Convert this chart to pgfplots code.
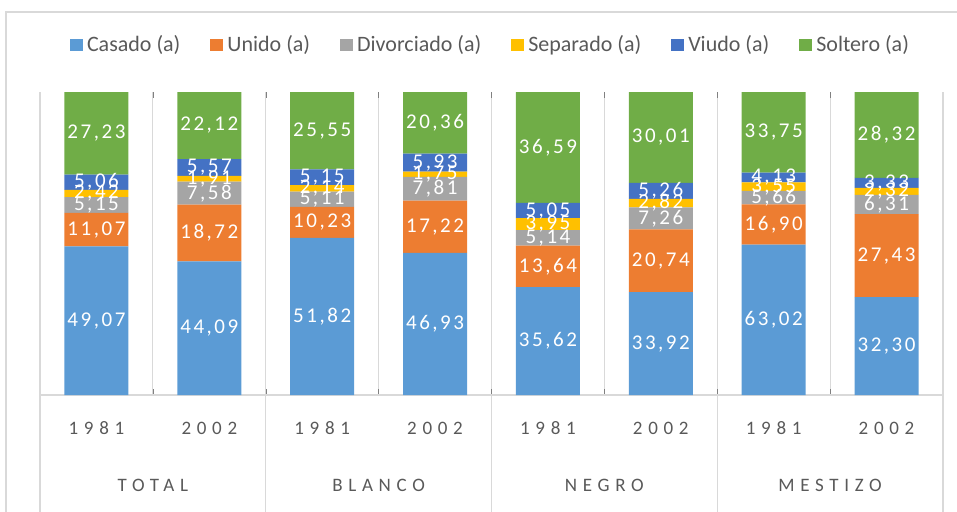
\documentclass[border=0pt]{standalone}
\usepackage{fontspec}
\setmainfont{Carlito}
\newfontfamily\spaced[LetterSpace=30]{Carlito}
\newfontfamily\lblfont[LetterSpace=12]{Carlito}
\usepackage{pgfplots}
\usepackage{pgfplotstable}
\pgfplotsset{compat=1.18}

\definecolor{casado}{HTML}{5B9BD5}
\definecolor{unido}{HTML}{ED7D31}
\definecolor{divorc}{HTML}{A5A5A5}
\definecolor{separ}{HTML}{FFC000}
\definecolor{viudo}{HTML}{4472C4}
\definecolor{solt}{HTML}{70AD47}
\definecolor{txt}{HTML}{595959}
\definecolor{grd}{HTML}{D9D9D9}

% c=casado u=unido d=divorciado s=separado v=viudo o=soltero, t=row total
\pgfplotstableread{
x   c     u     d    s    v    o     t
0.5 49.07 11.07 5.15 2.42 5.06 27.23 100.00
1.5 44.09 18.72 7.58 1.91 5.57 22.12 99.99
2.5 51.82 10.23 5.11 2.14 5.15 25.55 100.00
3.5 46.93 17.22 7.81 1.75 5.93 20.36 100.00
4.5 35.62 13.64 5.14 3.95 5.05 36.59 99.99
5.5 33.92 20.74 7.26 2.82 5.26 30.01 100.01
6.5 63.02 16.90 5.66 3.55 4.13 33.75 127.01
7.5 32.30 27.43 6.31 2.32 3.33 28.32 100.01
}\estado

\pgfplotsset{base/.style={
  scale only axis, width=451.5pt, height=151.5pt,
  xmin=0, xmax=8, ymin=0, ymax=100, clip=false,
}}

\begin{document}
\begin{tikzpicture}
\useasboundingbox (-20pt,-58pt) rectangle (458.5pt,197.5pt);
\draw[grd, line width=0.8pt] (-17pt,-60pt) -- (-17pt,191.5pt) -- (460pt,191.5pt);
\begin{axis}[base,
  ybar stacked, bar width=32pt,
  axis line style={draw=none},
  ytick=\empty,
  xtick={0.5,1.5,...,7.5},
  xticklabels={1981,2002,1981,2002,1981,2002,1981,2002},
  major tick length=0pt,
  xticklabel style={font=\spaced\fontsize{9.5}{11}\selectfont, text=txt, anchor=center, yshift=-16.5pt},
  extra x ticks={1,3,5,7},
  extra x tick labels={TOTAL,BLANCO,NEGRO,MESTIZO},
  extra x tick style={grid=none, xticklabel style={yshift=-28.5pt}},
  minor xtick={0,...,8},
  xminorgrids, minor grid style={grd, line width=0.6pt},
  legend style={at={(0.5,1.155)}, anchor=center, draw=none, fill=none,
    font=\fontsize{11}{13}\selectfont, text=txt, legend columns=6,
    /tikz/every even column/.append style={column sep=13pt}},
  legend image code/.code={\fill[#1] (0pt,-3pt) rectangle (6.5pt,3pt);},
]
\addplot[fill=casado, draw=none] table[x=x, y expr=\thisrow{c}*100/\thisrow{t}] {\estado};
\addplot[fill=unido, draw=none] table[x=x, y expr=\thisrow{u}*100/\thisrow{t}] {\estado};
\addplot[fill=divorc, draw=none] table[x=x, y expr=\thisrow{d}*100/\thisrow{t}] {\estado};
\addplot[fill=separ, draw=none] table[x=x, y expr=\thisrow{s}*100/\thisrow{t}] {\estado};
\addplot[fill=viudo, draw=none] table[x=x, y expr=\thisrow{v}*100/\thisrow{t}] {\estado};
\addplot[fill=solt, draw=none] table[x=x, y expr=\thisrow{o}*100/\thisrow{t}] {\estado};
\legend{Casado (a),Unido (a),Divorciado (a),Separado (a),Viudo (a),Soltero (a)}
\draw[grd, line width=0.6pt] (axis cs:0,0) -- (axis cs:8,0);
\draw[grd, line width=0.6pt] (axis cs:0,100) -- (axis cs:0,-40)
  (axis cs:2,0) -- (axis cs:2,-40) (axis cs:4,0) -- (axis cs:4,-40)
  (axis cs:6,0) -- (axis cs:6,-40) (axis cs:8,100) -- (axis cs:8,-40);
\end{axis}
\begin{axis}[base, hide axis,
  point meta=explicit,
  /pgf/number format/assume math mode=true,
  nodes near coords={\pgfmathprintnumber[fixed, fixed zerofill, precision=2, use comma]{\pgfplotspointmeta}},
  every node near coord/.append style={font=\lblfont\fontsize{10.5}{12}\selectfont, text=white, anchor=center, inner sep=0pt},
]
\addplot[draw=none] table[x=x, y expr=(\thisrow{c}/2)*100/\thisrow{t}, meta=c] {\estado};
\addplot[draw=none] table[x=x, y expr=(\thisrow{c}+\thisrow{u}/2)*100/\thisrow{t}, meta=u] {\estado};
\addplot[draw=none] table[x=x, y expr=(\thisrow{c}+\thisrow{u}+\thisrow{d}/2)*100/\thisrow{t}, meta=d] {\estado};
\addplot[draw=none] table[x=x, y expr=(\thisrow{c}+\thisrow{u}+\thisrow{d}+\thisrow{s}/2)*100/\thisrow{t}, meta=s] {\estado};
\addplot[draw=none] table[x=x, y expr=(\thisrow{c}+\thisrow{u}+\thisrow{d}+\thisrow{s}+\thisrow{v}/2)*100/\thisrow{t}, meta=v] {\estado};
\addplot[draw=none] table[x=x, y expr=(\thisrow{c}+\thisrow{u}+\thisrow{d}+\thisrow{s}+\thisrow{v}+\thisrow{o}/2)*100/\thisrow{t}, meta=o] {\estado};
\end{axis}
\end{tikzpicture}
\end{document}
